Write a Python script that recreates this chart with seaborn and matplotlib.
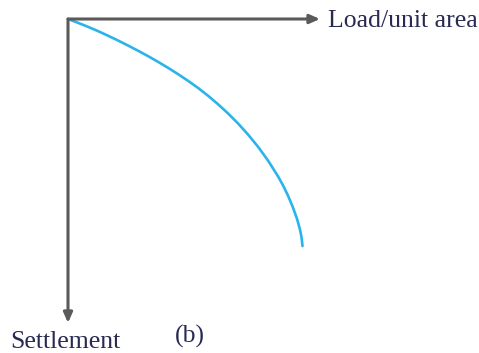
import matplotlib
matplotlib.use("Agg")
import matplotlib.pyplot as plt
import seaborn as sns
import pandas as pd

sns.set_theme(style="white")
plt.rcParams["font.family"] = ["Liberation Serif", "DejaVu Serif"]

# Load/settlement curve (arbitrary units; axes run 0-252 and 0-304)
load = [0, 10, 20, 30, 40, 50, 60, 70, 80, 90, 100, 110, 120, 130, 140,
        150, 160, 170, 180, 190, 200, 210, 215, 220, 225, 229, 232,
        233.5, 234.5]
settlement = [0, 3.8, 7.8, 12.1, 16.7, 21.5, 26.5, 31.7, 37.1, 42.8, 48.8,
              55.1, 61.8, 68.9, 76.7, 85.2, 94.4, 104.4, 115.5, 127.7,
              141.5, 157.3, 166.3, 176.6, 188.6, 199.8, 210.6, 218.1, 227.1]

x_label = "Load/unit area"
y_label = "Settlement"
panel_label = "(b)"

X_MAX, Y_MAX = 252, 304

W, H = 479, 353
fig = plt.figure(figsize=(W / 100, H / 100), dpi=100)
ax = fig.add_axes([68 / W, 1 - 323 / H, 252 / W, 304 / H])

df = pd.DataFrame({"load": load, "settlement": settlement})
sns.lineplot(data=df, x="load", y="settlement", ax=ax, sort=False,
             color="#2ab4ea", lw=1.9, solid_joinstyle="round",
             solid_capstyle="round")

ax.set_xlim(0, X_MAX)
ax.set_ylim(Y_MAX, 0)
ax.set_axis_off()

axis_color = "#5a5a5a"
arrow = dict(arrowstyle="-|>,head_length=0.5,head_width=0.22",
             color=axis_color, lw=2.2, shrinkA=0, shrinkB=0)
ax.annotate("", xy=(X_MAX, 0), xytext=(0, 0), arrowprops=arrow,
            annotation_clip=False)
ax.annotate("", xy=(0, Y_MAX), xytext=(0, 0), arrowprops=arrow,
            annotation_clip=False)

text_color = "#282a52"
fig.text(328 / W, 1 - 27 / H, x_label, fontsize=18.5, color=text_color,
         ha="left", va="baseline")
fig.text(10 / W, 1 - 348 / H, y_label, fontsize=18.5, color=text_color,
         ha="left", va="baseline")
fig.text(175 / W, 1 - 343 / H, panel_label, fontsize=18.5, color=text_color,
         ha="left", va="baseline")

fig.savefig("out.png", dpi=100)
